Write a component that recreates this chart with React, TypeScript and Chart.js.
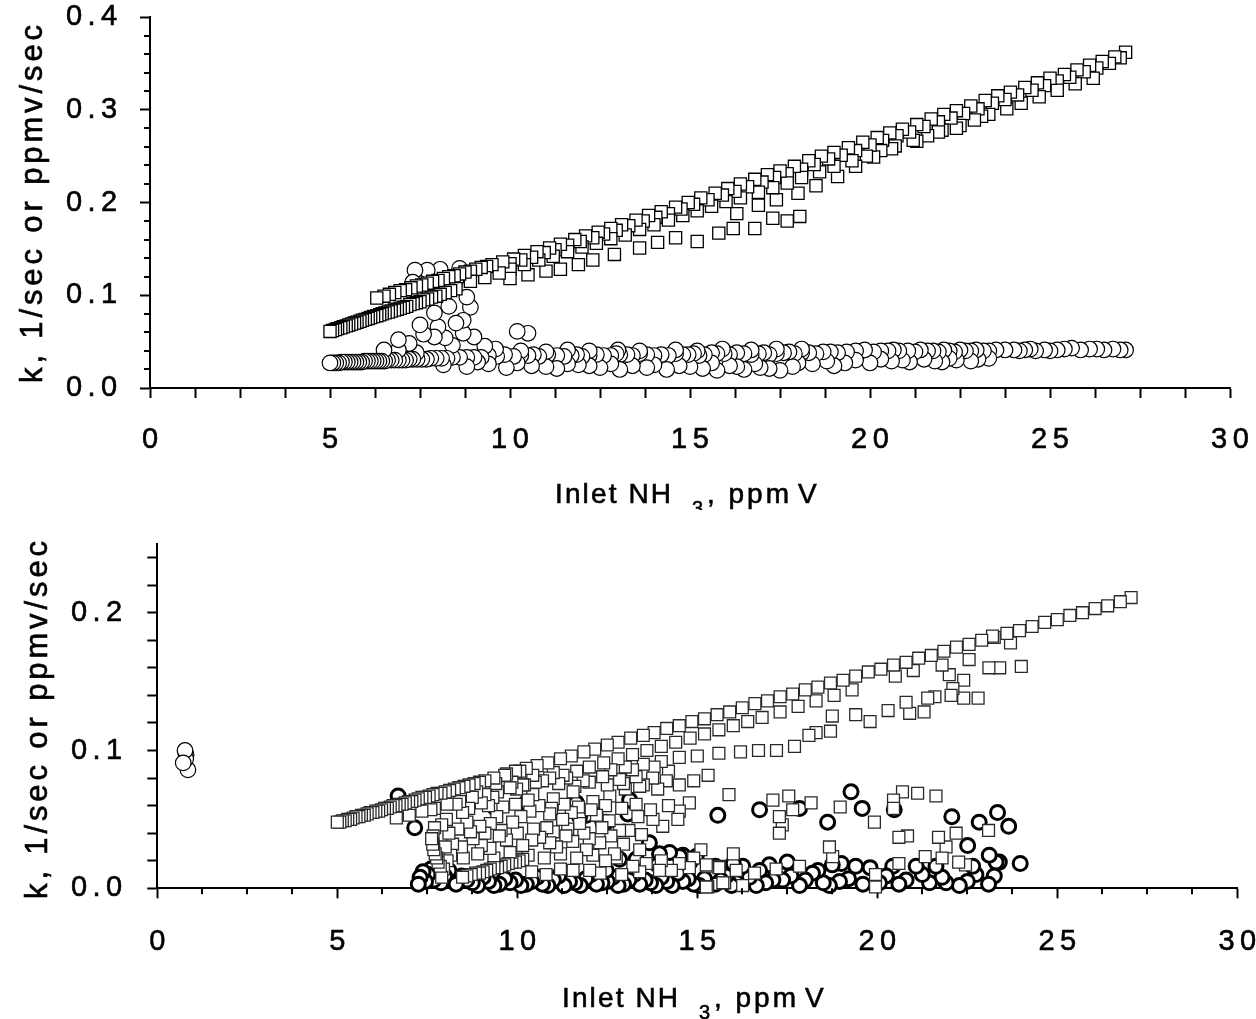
import React, { useEffect, useRef } from "react";
import { Chart, registerables } from "chart.js";

Chart.register(...registerables);

type Pt = [number, number];

const FONT = "'Liberation Sans', Arial, Helvetica, sans-serif";
const TICK_SPACING = "5.5px";
const TICK_SIZE = 29;
const TEXT_STROKE = 0.6;

// ---------------- axis ticks and titles ----------------
const X_TICKS = [0, 1.25, 2.5, 3.75, 5, 6.25, 7.5, 8.75, 10, 11.25, 12.5, 13.75, 15, 16.25, 17.5, 18.75, 20, 21.25, 22.5, 23.75, 25, 26.25, 27.5, 28.75, 30];
const X_LABELS = [0, 5, 10, 15, 20, 25, 30];
const TOP_Y_TICKS = [0, 0.02, 0.04, 0.06, 0.08, 0.1, 0.12, 0.14, 0.16, 0.18, 0.2, 0.22, 0.24, 0.26, 0.28, 0.3, 0.32, 0.34, 0.36, 0.38, 0.4];
const TOP_Y_LABELS = [0, 0.1, 0.2, 0.3, 0.4];
const BOT_Y_TICKS = [0, 0.02, 0.04, 0.06, 0.08, 0.1, 0.12, 0.14, 0.16, 0.18, 0.2, 0.22, 0.24];
const BOT_Y_LABELS = [0, 0.1, 0.2];
const X_TITLE_MAIN = "Inlet NH";
const X_TITLE_SUB = "3";
const X_TITLE_UNIT = ", ppm";
const X_TITLE_LAST = "V";
const Y_TITLE = "k, 1/sec or ppmv/sec";

// ---------------- top panel: squares ----------------
const TOP_SQ_LOWER_COMB: Pt[] = [
  [5.0, 0.061], [5.07, 0.062], [5.15, 0.063], [5.21, 0.064], [5.3, 0.065], [5.37, 0.066], [5.45, 0.067], [5.52, 0.068],
  [5.6, 0.069], [5.68, 0.07], [5.75, 0.071], [5.83, 0.072], [5.9, 0.073], [5.98, 0.074], [6.06, 0.075], [6.13, 0.076],
  [6.21, 0.077], [6.3, 0.078], [6.38, 0.079], [6.45, 0.08], [6.53, 0.081], [6.62, 0.082], [6.7, 0.083], [6.79, 0.084],
  [6.87, 0.085], [6.95, 0.086], [7.04, 0.087], [7.13, 0.088], [7.22, 0.09], [7.31, 0.091], [7.4, 0.092], [7.5, 0.093],
  [7.6, 0.095], [7.71, 0.096], [7.82, 0.098], [7.94, 0.099], [8.06, 0.101], [8.2, 0.103], [8.35, 0.105], [8.5, 0.107],
];
const TOP_SQ_UPPER_COMB: Pt[] = [
  [6.3, 0.097], [6.5, 0.099], [6.65, 0.101], [6.8, 0.103], [6.95, 0.105], [7.1, 0.106], [7.25, 0.108], [7.4, 0.11],
  [7.55, 0.111], [7.7, 0.113], [7.85, 0.115], [8.0, 0.116], [8.15, 0.118], [8.3, 0.12], [8.45, 0.121], [8.6, 0.123],
  [8.75, 0.125], [8.9, 0.126], [9.05, 0.128], [9.2, 0.13], [9.35, 0.131], [9.5, 0.133],
];
const TOP_SQ_UPPER: Pt[] = [
  [9.8, 0.136], [10.1, 0.139], [10.4, 0.143], [10.75, 0.147], [11.1, 0.151], [11.4, 0.155], [11.8, 0.16], [12.1, 0.164],
  [12.45, 0.168], [12.8, 0.172], [13.1, 0.176], [13.5, 0.181], [13.85, 0.186], [14.2, 0.19], [14.6, 0.195], [14.95, 0.2],
  [15.3, 0.205], [15.7, 0.21], [16.05, 0.215], [16.4, 0.22], [16.8, 0.225], [17.15, 0.23], [17.5, 0.234], [17.9, 0.239],
  [18.3, 0.245], [18.65, 0.25], [19.0, 0.254], [19.4, 0.259], [19.8, 0.265], [20.2, 0.27], [20.55, 0.275], [20.9, 0.279],
  [21.3, 0.284], [21.7, 0.29], [22.05, 0.295], [22.4, 0.299], [22.8, 0.304], [23.2, 0.31], [23.55, 0.315], [23.9, 0.319],
  [24.3, 0.324], [24.65, 0.329], [25.0, 0.334], [25.4, 0.338], [25.75, 0.343], [26.1, 0.348], [26.45, 0.352], [26.8, 0.357],
  [27.1, 0.362],
];
const TOP_SQ_UPPER_B: Pt[] = [
  [10.0, 0.134], [10.3, 0.138], [10.6, 0.141], [10.95, 0.146], [11.25, 0.149], [11.6, 0.154], [11.95, 0.158], [12.3, 0.162],
  [12.6, 0.166], [12.95, 0.17], [13.3, 0.175], [13.7, 0.18], [14.05, 0.184], [14.4, 0.188], [14.75, 0.193], [15.1, 0.198],
  [15.5, 0.203], [15.9, 0.208], [16.25, 0.212], [16.6, 0.217], [17.0, 0.222], [17.35, 0.227], [17.7, 0.231], [18.1, 0.236],
  [18.45, 0.241], [18.85, 0.247], [19.2, 0.251], [19.6, 0.256], [20.0, 0.262], [20.35, 0.267], [20.75, 0.272], [21.1, 0.276],
  [21.5, 0.282], [21.9, 0.287], [22.25, 0.291], [22.6, 0.296], [23.0, 0.301], [23.4, 0.307], [23.75, 0.311], [24.1, 0.316],
  [24.5, 0.321], [24.85, 0.326], [25.2, 0.331], [25.55, 0.335], [25.95, 0.341], [26.3, 0.345], [26.65, 0.35], [26.95, 0.356],
];
const TOP_SQ_MID: Pt[] = [
  [8.9, 0.115], [9.3, 0.119], [9.7, 0.124], [10.0, 0.128], [10.4, 0.133], [10.8, 0.138], [11.2, 0.142], [11.6, 0.147],
  [12.0, 0.152], [12.4, 0.156], [12.8, 0.161], [13.2, 0.165], [13.6, 0.171], [14.0, 0.176], [14.4, 0.181], [14.8, 0.186],
  [15.2, 0.191], [15.6, 0.196], [16.0, 0.201], [16.4, 0.205], [16.9, 0.211], [17.3, 0.216], [17.7, 0.221], [18.1, 0.227],
  [18.6, 0.233], [19.0, 0.239], [19.5, 0.245], [19.9, 0.25], [20.3, 0.256], [20.7, 0.261], [21.2, 0.267], [21.6, 0.272],
  [22.0, 0.278], [22.5, 0.283], [22.9, 0.289], [23.3, 0.295], [23.8, 0.301], [24.2, 0.307], [24.7, 0.314], [25.2, 0.321],
  [25.7, 0.328], [26.2, 0.334],
];
const TOP_SQ_LOW: Pt[] = [
  [10.0, 0.118], [10.5, 0.122], [11.0, 0.126], [11.4, 0.128], [11.9, 0.133], [12.3, 0.138], [12.9, 0.144], [13.6, 0.151],
  [14.1, 0.157], [16.3, 0.188], [16.9, 0.197], [17.4, 0.203], [18.0, 0.21], [18.5, 0.218], [19.1, 0.228], [19.6, 0.239],
  [20.1, 0.249], [20.6, 0.258], [21.3, 0.266], [21.9, 0.276], [22.4, 0.28], [23.1, 0.293],
];
const TOP_SQ_BRANCH: Pt[] = [
  [14.6, 0.162], [15.2, 0.158], [15.8, 0.167], [16.2, 0.172], [16.8, 0.172], [17.3, 0.183], [17.7, 0.18], [18.05, 0.185],
];

// ---------------- top panel: circles ----------------
const TOP_CI_COMB: Pt[] = [
  [5.0, 0.027], [5.08, 0.027], [5.16, 0.027], [5.24, 0.027], [5.32, 0.028], [5.4, 0.028], [5.48, 0.028], [5.56, 0.028],
  [5.64, 0.028], [5.72, 0.028], [5.8, 0.028], [5.88, 0.028], [5.96, 0.029], [6.04, 0.029], [6.12, 0.029], [6.2, 0.029],
  [6.28, 0.029], [6.36, 0.029], [6.44, 0.029], [6.52, 0.029], [6.6, 0.03], [6.7, 0.03], [6.8, 0.03], [6.9, 0.03],
  [7.0, 0.03], [7.1, 0.03], [7.2, 0.031], [7.3, 0.031], [7.42, 0.031], [7.55, 0.031], [7.68, 0.031], [7.8, 0.032],
  [7.95, 0.032], [8.1, 0.032], [8.25, 0.032], [8.4, 0.033], [8.6, 0.033], [8.8, 0.033], [9.0, 0.033],
];
const TOP_CI_MAIN: Pt[] = [
  [9.2, 0.033], [9.63, 0.034], [10.1, 0.034], [10.5, 0.035], [10.8, 0.034], [11.3, 0.035], [11.7, 0.035], [12.0, 0.034],
  [12.4, 0.036], [12.8, 0.035], [13.05, 0.036], [13.4, 0.035], [13.8, 0.036], [14.2, 0.036], [14.4, 0.035], [14.8, 0.036],
  [15.1, 0.037], [15.4, 0.036], [15.75, 0.037], [16.1, 0.036], [16.5, 0.037], [16.9, 0.037], [17.2, 0.036], [17.6, 0.038],
  [17.9, 0.037], [18.3, 0.038], [18.7, 0.039], [19.1, 0.038], [19.6, 0.04], [20.1, 0.039], [20.5, 0.04], [20.8, 0.04],
  [21.25, 0.039], [21.6, 0.04], [21.9, 0.039], [22.2, 0.04], [22.5, 0.041], [22.8, 0.04], [23.15, 0.04], [23.5, 0.041],
  [24.0, 0.041], [24.3, 0.041], [24.6, 0.04], [25.2, 0.041], [25.6, 0.043], [26.1, 0.042], [26.5, 0.041], [26.75, 0.042],
  [27.1, 0.041],
];
const TOP_CI_ROW2: Pt[] = [
  [9.4, 0.035], [9.85, 0.036], [10.3, 0.035], [10.65, 0.036], [11.05, 0.036], [11.5, 0.034], [11.85, 0.036], [12.2, 0.035],
  [12.6, 0.035], [12.95, 0.037], [13.25, 0.036], [13.6, 0.037], [14.0, 0.035], [14.6, 0.037], [14.95, 0.036], [15.25, 0.035],
  [15.6, 0.038], [15.95, 0.037], [16.3, 0.038], [16.7, 0.036], [17.05, 0.038], [17.4, 0.037], [17.75, 0.039], [18.1, 0.038],
  [18.5, 0.037], [18.9, 0.039], [19.35, 0.039], [19.85, 0.041], [20.3, 0.04], [20.65, 0.041], [21.05, 0.04], [21.4, 0.041],
  [21.75, 0.04], [22.05, 0.041], [22.35, 0.039], [22.65, 0.04], [22.95, 0.041], [23.3, 0.04], [23.75, 0.041], [24.15, 0.04],
  [24.45, 0.042], [24.85, 0.041], [25.0, 0.04], [25.4, 0.042], [25.85, 0.041], [26.3, 0.042], [26.95, 0.041],
];
const TOP_CI_UPPER: Pt[] = [
  [10.3, 0.04], [11.0, 0.039], [11.6, 0.041], [12.2, 0.04], [13.0, 0.041], [13.6, 0.04], [14.6, 0.041], [15.2, 0.04],
  [15.9, 0.042], [16.7, 0.041], [17.4, 0.042], [18.1, 0.042],
];
const TOP_CI_LOWER: Pt[] = [
  [8.15, 0.025], [8.8, 0.023], [9.4, 0.026], [9.9, 0.022], [10.6, 0.024], [11.3, 0.021], [11.9, 0.025], [12.5, 0.022],
  [13.05, 0.02], [13.4, 0.024], [13.8, 0.022], [14.35, 0.02], [15.0, 0.023], [15.35, 0.021], [15.75, 0.019], [16.1, 0.024],
  [16.5, 0.02], [16.95, 0.022], [17.5, 0.019], [17.85, 0.023], [18.4, 0.026], [19.0, 0.024], [19.6, 0.03], [20.0, 0.027],
  [20.6, 0.029], [21.1, 0.028], [21.5, 0.031], [22.0, 0.028], [22.4, 0.03], [22.8, 0.029], [23.3, 0.032], [9.1, 0.028],
  [10.2, 0.027], [11.0, 0.023], [11.6, 0.026], [12.2, 0.024], [12.8, 0.026], [14.0, 0.025], [14.7, 0.024], [15.6, 0.027],
  [16.3, 0.023], [16.8, 0.026], [17.2, 0.021], [18.0, 0.027], [18.8, 0.029], [19.3, 0.027], [20.3, 0.031], [20.9, 0.03],
  [21.8, 0.029], [22.2, 0.032], [23.0, 0.031],
];
const TOP_CI_SCATTER: Pt[] = [
  [6.5, 0.041], [6.9, 0.041], [7.4, 0.038], [6.9, 0.052], [7.2, 0.048], [7.6, 0.058], [7.9, 0.055], [8.2, 0.054],
  [8.4, 0.046], [8.7, 0.059], [9.0, 0.055], [9.3, 0.045], [9.6, 0.042], [7.5, 0.068], [8.0, 0.066], [8.5, 0.07],
  [8.7, 0.073], [7.9, 0.081], [8.3, 0.088], [8.9, 0.087], [8.8, 0.098], [7.3, 0.114], [8.5, 0.117], [7.36, 0.127],
  [7.7, 0.127], [8.06, 0.128], [8.6, 0.129], [10.2, 0.061], [10.5, 0.059],
];

// ---------------- bottom panel: squares ----------------
const BOT_SQ_COMB: Pt[] = [
  [5.0, 0.048], [5.07, 0.048], [5.14, 0.049], [5.22, 0.049], [5.29, 0.05], [5.37, 0.05], [5.44, 0.051], [5.52, 0.052],
  [5.6, 0.052], [5.67, 0.053], [5.75, 0.053], [5.83, 0.054], [5.91, 0.055], [5.99, 0.055], [6.07, 0.056], [6.15, 0.056],
  [6.23, 0.057], [6.31, 0.058], [6.39, 0.058], [6.47, 0.059], [6.55, 0.06], [6.63, 0.06], [6.72, 0.061], [6.8, 0.061],
  [6.89, 0.062], [6.98, 0.063], [7.07, 0.063], [7.16, 0.064], [7.25, 0.065], [7.35, 0.066], [7.45, 0.066], [7.55, 0.067],
  [7.66, 0.068], [7.77, 0.069], [7.88, 0.069], [8.0, 0.07], [8.12, 0.071], [8.25, 0.072], [8.38, 0.073], [8.52, 0.074],
  [8.66, 0.075], [8.8, 0.076], [8.95, 0.077], [9.1, 0.078],
];
const BOT_SQ_UPPER: Pt[] = [
  [9.35, 0.08], [9.65, 0.082], [9.95, 0.085], [10.25, 0.087], [10.55, 0.089], [10.85, 0.091], [11.2, 0.094], [11.5, 0.096],
  [11.85, 0.099], [12.15, 0.101], [12.5, 0.104], [12.8, 0.106], [13.15, 0.109], [13.5, 0.111], [13.8, 0.113], [14.15, 0.116],
  [14.5, 0.118], [14.85, 0.121], [15.2, 0.123], [15.55, 0.126], [15.9, 0.128], [16.25, 0.131], [16.6, 0.134], [16.95, 0.136],
  [17.3, 0.139], [17.65, 0.141], [18.0, 0.144], [18.35, 0.146], [18.7, 0.149], [19.05, 0.151], [19.4, 0.154], [19.75, 0.157],
  [20.1, 0.159], [20.45, 0.162], [20.8, 0.164], [21.15, 0.167], [21.5, 0.169], [21.85, 0.172], [22.2, 0.175], [22.55, 0.177],
  [22.9, 0.18], [23.25, 0.182], [23.6, 0.185], [23.95, 0.187], [24.3, 0.19], [24.65, 0.193], [25.0, 0.195], [25.35, 0.198],
  [25.7, 0.2], [26.05, 0.203], [26.4, 0.205], [26.75, 0.208], [27.05, 0.211],
];
const BOT_SQ_SECOND: Pt[] = [
  [6.64, 0.051], [7.0, 0.053], [7.35, 0.056], [7.7, 0.058], [8.05, 0.061], [8.4, 0.063], [8.75, 0.066], [9.1, 0.068],
  [9.45, 0.07], [9.8, 0.073], [10.15, 0.075], [10.5, 0.077], [10.9, 0.08], [11.27, 0.082], [11.65, 0.085], [12.0, 0.088],
  [12.4, 0.091], [12.8, 0.094], [13.2, 0.097], [13.6, 0.1], [14.0, 0.103], [14.4, 0.106], [14.8, 0.109], [15.2, 0.112],
  [15.6, 0.115], [16.0, 0.118], [16.4, 0.121], [16.8, 0.124], [17.3, 0.128], [17.8, 0.132], [18.3, 0.136], [18.8, 0.14],
  [19.3, 0.144], [20.5, 0.154], [21.0, 0.158], [21.8, 0.162], [22.0, 0.155], [22.55, 0.166], [23.1, 0.16], [23.4, 0.16],
  [24.0, 0.161], [23.7, 0.178], [23.2, 0.183],
];
const BOT_SQ_BRANCH: Pt[] = [
  [12.6, 0.086], [13.0, 0.088], [13.5, 0.09], [14.0, 0.092], [14.5, 0.095], [15.0, 0.096], [15.6, 0.098], [16.2, 0.099],
  [16.7, 0.1], [17.2, 0.1], [17.7, 0.103], [18.1, 0.111], [18.3, 0.113], [18.7, 0.114], [18.75, 0.125], [19.4, 0.126],
  [19.8, 0.121], [20.3, 0.129], [20.8, 0.135], [20.9, 0.127], [21.3, 0.128], [21.4, 0.138], [21.6, 0.139], [22.05, 0.14],
  [22.1, 0.145], [22.4, 0.151], [22.4, 0.138], [22.8, 0.138],
];
const BOT_SQ_CLUSTER: Pt[] = [
  [9.7, 0.083], [10.07, 0.085], [10.43, 0.082], [11.0, 0.084], [11.37, 0.08], [11.83, 0.078], [12.37, 0.081], [12.84, 0.079],
  [13.3, 0.081], [13.76, 0.08], [14.14, 0.078], [8.87, 0.07], [9.32, 0.066], [9.98, 0.072], [10.43, 0.068], [11.0, 0.065],
  [11.55, 0.07], [12.1, 0.063], [12.57, 0.067], [13.0, 0.072], [13.5, 0.075], [8.03, 0.05], [8.48, 0.055], [8.96, 0.045],
  [9.43, 0.052], [9.87, 0.048], [10.35, 0.056], [10.82, 0.044], [11.26, 0.05], [11.73, 0.047], [12.2, 0.053], [12.84, 0.042],
  [13.77, 0.05], [14.04, 0.045], [14.46, 0.05], [14.78, 0.062], [7.6, 0.057], [7.9, 0.046], [10.6, 0.06], [9.2, 0.06],
  [7.66, 0.038], [8.2, 0.032], [8.77, 0.036], [9.24, 0.029], [9.7, 0.035], [10.15, 0.031], [10.62, 0.037], [11.09, 0.03],
  [11.54, 0.034], [11.92, 0.028], [12.29, 0.033], [12.7, 0.025], [7.62, 0.036], [7.65, 0.032], [7.68, 0.028], [7.72, 0.025],
  [7.76, 0.022], [7.8, 0.019], [7.86, 0.016], [7.95, 0.014], [8.05, 0.02], [8.0, 0.03], [8.1, 0.04], [7.7, 0.044],
  [11.55, 0.013], [12.01, 0.013], [12.75, 0.022], [13.21, 0.016], [13.58, 0.018], [13.95, 0.013], [14.28, 0.013],
  [14.78, 0.015], [15.25, 0.017], [15.62, 0.016], [15.25, 0.001], [15.71, 0.004], [15.1, 0.028], [16.0, 0.025],
];
const BOT_SQ_FILL: Pt[] = [
  [9.4, 0.076], [9.85, 0.077], [10.2, 0.075], [10.7, 0.078], [11.15, 0.076], [11.6, 0.074], [12.0, 0.077], [12.5, 0.075],
  [12.95, 0.076], [13.4, 0.074], [13.9, 0.072], [8.3, 0.061], [8.65, 0.058], [9.0, 0.062], [9.6, 0.059], [9.95, 0.061],
  [10.3, 0.064], [10.95, 0.058], [11.3, 0.061], [11.7, 0.059], [12.05, 0.057], [12.45, 0.06], [12.9, 0.058], [13.3, 0.061],
  [13.7, 0.057], [14.2, 0.06], [14.5, 0.056], [8.35, 0.043], [8.7, 0.041], [9.1, 0.04], [9.55, 0.042], [10.0, 0.04],
  [10.45, 0.043], [11.0, 0.041], [11.4, 0.043], [11.85, 0.04], [12.35, 0.044], [12.6, 0.038], [13.1, 0.042], [13.45, 0.039],
  [8.15, 0.024], [8.5, 0.022], [8.9, 0.025], [9.35, 0.022], [9.8, 0.026], [10.3, 0.024], [10.75, 0.022], [11.2, 0.025],
  [11.65, 0.022], [12.1, 0.024], [12.45, 0.02], [7.9, 0.008], [10.4, 0.012], [10.8, 0.01], [11.2, 0.014], [12.3, 0.011],
  [12.9, 0.01], [13.4, 0.012], [14.0, 0.02], [14.5, 0.018], [14.9, 0.022], [14.5, 0.075], [14.9, 0.078], [15.3, 0.082],
  [14.2, 0.085], [13.8, 0.088], [13.2, 0.086], [8.6, 0.048], [9.25, 0.047], [10.1, 0.052], [10.9, 0.054], [11.5, 0.055],
  [12.55, 0.049], [13.35, 0.052], [8.45, 0.03], [9.0, 0.031], [9.5, 0.038], [10.4, 0.035], [10.9, 0.033], [11.35, 0.038],
  [12.0, 0.036], [12.95, 0.032], [13.4, 0.028],
];
const BOT_SQ_LOW_COMB: Pt[] = [
  [8.48, 0.008], [8.6, 0.009], [8.72, 0.01], [8.84, 0.011], [8.95, 0.011], [9.05, 0.012], [9.15, 0.013], [9.25, 0.014],
  [9.35, 0.015], [9.45, 0.015], [9.55, 0.016], [9.65, 0.017], [9.75, 0.018], [9.85, 0.019], [9.95, 0.019], [10.05, 0.02],
  [10.15, 0.021],
];
const BOT_SQ_RIGHT: Pt[] = [
  [15.88, 0.068], [17.1, 0.064], [17.54, 0.067], [18.16, 0.062], [17.65, 0.057], [17.28, 0.052], [17.36, 0.046], [17.28, 0.04],
  [18.97, 0.059], [19.92, 0.048], [20.7, 0.07], [21.12, 0.069], [21.63, 0.067], [20.45, 0.064], [20.45, 0.058], [20.6, 0.037],
  [20.84, 0.038], [21.7, 0.037], [22.19, 0.04], [21.91, 0.03], [23.09, 0.042], [18.67, 0.03], [18.76, 0.023], [21.33, 0.023],
  [21.8, 0.022], [22.26, 0.019], [22.45, 0.017], [20.6, 0.018], [19.95, 0.01], [19.95, 0.001], [17.84, 0.016], [17.19, 0.014],
  [16.59, 0.011], [16.08, 0.013], [15.6, 0.015], [15.29, 0.016], [15.76, 0.004], [16.26, 0.002], [15.29, 0.001],
];

// ---------------- bottom panel: circles ----------------
const BOT_CI_SCATTER: Pt[] = [
  [6.69, 0.067], [7.15, 0.044], [9.4, 0.058], [10.25, 0.062], [11.64, 0.062], [11.73, 0.052], [11.92, 0.053], [12.16, 0.054],
  [12.38, 0.048], [12.47, 0.048], [13.07, 0.054], [13.12, 0.064], [13.17, 0.056], [13.67, 0.033], [15.57, 0.053], [16.73, 0.057],
  [17.84, 0.058], [18.62, 0.048], [19.27, 0.07], [19.58, 0.058], [20.47, 0.057], [22.07, 0.052], [22.83, 0.048], [23.34, 0.055],
  [23.65, 0.045], [22.51, 0.031], [23.11, 0.024], [23.3, 0.019], [23.97, 0.018], [23.09, 0.003],
];
const BOT_CI_LOW: Pt[] = [
  [7.3, 0.008], [7.38, 0.012], [7.45, 0.005], [7.52, 0.01], [7.6, 0.014], [7.68, 0.006], [7.78, 0.011], [7.88, 0.004],
  [7.98, 0.009], [8.1, 0.013], [13.95, 0.025], [14.23, 0.026], [14.51, 0.023], [14.6, 0.024], [14.97, 0.023], [13.3, 0.021],
  [12.84, 0.021], [12.47, 0.013], [16.26, 0.016], [16.73, 0.013], [17.1, 0.006], [17.37, 0.006], [16.64, 0.002], [17.84, 0.002],
  [18.35, 0.013], [18.75, 0.017], [18.67, 0.002], [18.95, 0.005], [19.4, 0.016], [20.06, 0.004], [20.43, 0.016], [20.8, 0.006],
  [21.08, 0.016], [21.45, 0.004], [21.63, 0.016], [21.91, 0.004], [22.28, 0.002], [22.65, 0.016], [22.74, 0.01], [23.39, 0.019],
  [18.2, 0.011], [13.9, 0.017], [14.8, 0.019], [15.5, 0.016], [16.0, 0.018], [17.0, 0.017], [17.5, 0.019], [19.0, 0.018],
  [19.8, 0.015],
];
const BOT_CI_BOTTOM: Pt[] = [
  [8.3, 0.003], [8.6, 0.006], [8.9, 0.002], [9.2, 0.005], [9.5, 0.003], [9.8, 0.004], [10.1, 0.002], [10.4, 0.005],
  [10.7, 0.003], [11.0, 0.006], [11.3, 0.002], [11.6, 0.004], [11.9, 0.007], [12.2, 0.003], [12.5, 0.005], [12.8, 0.002],
  [13.1, 0.006], [13.4, 0.003], [13.7, 0.004], [14.0, 0.008], [14.3, 0.002], [14.6, 0.005], [14.9, 0.003], [15.2, 0.007],
  [15.5, 0.003], [15.8, 0.009], [16.1, 0.004], [7.25, 0.003], [8.45, 0.009], [8.75, 0.004], [9.05, 0.008], [9.35, 0.002],
  [9.65, 0.007], [9.95, 0.006], [10.25, 0.003], [10.55, 0.008], [10.85, 0.002], [11.15, 0.009], [11.45, 0.005], [11.75, 0.002],
  [12.05, 0.01], [12.35, 0.004], [12.65, 0.008], [12.95, 0.003], [13.25, 0.01], [13.55, 0.006], [13.85, 0.002], [14.15, 0.005],
  [14.45, 0.011], [14.75, 0.007], [15.05, 0.002], [15.35, 0.012], [15.65, 0.006], [15.95, 0.002], [16.45, 0.008], [16.9, 0.004],
  [17.6, 0.009], [18.0, 0.006], [18.5, 0.004], [19.2, 0.007], [19.6, 0.003], [20.25, 0.009], [20.6, 0.003], [21.25, 0.01],
  [21.8, 0.008], [22.5, 0.005], [23.25, 0.009],
];
const BOT_CI_EDGE: Pt[] = [[0.77, 0.1], [0.8, 0.097], [0.79, 0.094], [0.72, 0.091], [0.85, 0.086]];

// ---------------- helpers ----------------
const isIn = (list: number[], v: number) => list.some((l) => Math.abs(l - v) < 1e-9);
const toPoints = (...groups: Pt[][]) =>
  groups
    .flat()
    .slice()
    .sort((a, b) => b[0] - a[0])
    .map(([x, y]) => ({ x, y }));

const squares = (data: any[], color: string, r: number, w: number) => ({
  data,
  pointStyle: "rect",
  pointRadius: r,
  pointBorderWidth: w,
  pointBorderColor: color,
  pointBackgroundColor: "#ffffff",
  showLine: false,
  clip: false,
});
const circles = (data: any[], width: number, r: number) => ({
  data,
  pointStyle: "circle",
  pointRadius: r,
  pointBorderWidth: width,
  pointBorderColor: "#000000",
  pointBackgroundColor: "#ffffff",
  showLine: false,
  clip: false,
});

interface PanelSpec {
  height: number;
  yMax: number;
  yTicks: number[];
  yLabels: number[];
  yMinorShort: boolean;
  xMinorShort: boolean;
  yAxisWidth: number;
  xAxisHeight: number;
  padTop: number;
  padRight: number;
  xTickPad: number;
  yTickPad: number;
  yTitleBaseline: number;
  yTitleCenter: number;
  xTitleBaseline: number;
  xTitleCenter: number;
  datasets: any[];
}

// draw a piece of text so that it spans a given width (Excel-like spread lettering)
function fitText(ctx: any, text: string, left: number, baseline: number, width: number, size: number) {
  ctx.font = `${size}px ${FONT}`;
  ctx.letterSpacing = "0px";
  const natural = ctx.measureText(text).width;
  const gaps = Math.max(text.length - 1, 1);
  const s = text.length > 1 ? (width - natural) / gaps : 0;
  ctx.letterSpacing = `${s}px`;
  ctx.textAlign = "left";
  ctx.fillText(text, left, baseline);
  ctx.lineWidth = TEXT_STROKE;
  ctx.strokeStyle = "#000";
  ctx.strokeText(text, left, baseline);
  ctx.letterSpacing = "0px";
}

function excelPlugin(spec: PanelSpec) {
  return {
    id: "excelAxes",
    beforeLayout(chart: any) {
      chart.ctx.letterSpacing = TICK_SPACING;
    },
    beforeDraw(chart: any) {
      chart.ctx.letterSpacing = TICK_SPACING;
    },
    afterDraw(chart: any) {
      const ctx = chart.ctx;
      const xs = chart.scales.x;
      const ys = chart.scales.y;
      ctx.save();
      ctx.strokeStyle = "#000";
      ctx.lineWidth = 2;
      if (spec.xMinorShort) {
        X_TICKS.forEach((v) => {
          if (isIn(X_LABELS, v)) return;
          const px = Math.round(xs.getPixelForValue(v));
          ctx.beginPath();
          ctx.moveTo(px, xs.top);
          ctx.lineTo(px, xs.top + 6);
          ctx.stroke();
        });
      }
      if (spec.yMinorShort) {
        spec.yTicks.forEach((v) => {
          if (isIn(spec.yLabels, v)) return;
          const py = Math.round(ys.getPixelForValue(v));
          ctx.beginPath();
          ctx.moveTo(ys.right, py);
          ctx.lineTo(ys.right - 6, py);
          ctx.stroke();
        });
      }
      // x title with subscript
      const cx = spec.xTitleCenter;
      const by = spec.xTitleBaseline;
      ctx.fillStyle = "#000";
      ctx.textBaseline = "alphabetic";
      fitText(ctx, X_TITLE_MAIN, cx - 133, by, 116, 28);
      fitText(ctx, X_TITLE_SUB, cx + 4, by + 12, 0, 20);
      fitText(ctx, X_TITLE_UNIT, cx + 19, by, 82, 28);
      fitText(ctx, X_TITLE_LAST, cx + 110, by, 0, 28);
      // y title
      ctx.save();
      ctx.translate(spec.yTitleBaseline, spec.yTitleCenter);
      ctx.rotate(-Math.PI / 2);
      fitText(ctx, Y_TITLE, -179, 0, 358, 31);
      ctx.restore();
      ctx.restore();
    },
  };
}

function buildConfig(spec: PanelSpec): any {
  const tickFont = { family: FONT, size: TICK_SIZE };
  return {
    type: "scatter",
    data: { datasets: spec.datasets },
    options: {
      animation: false,
      responsive: false,
      events: [],
      layout: { padding: { top: spec.padTop, right: spec.padRight, bottom: 0, left: 0 } },
      plugins: { legend: { display: false }, tooltip: { enabled: false } },
      scales: {
        x: {
          type: "linear",
          min: 0,
          max: 30,
          afterBuildTicks: (s: any) => {
            s.ticks = X_TICKS.map((v) => ({ value: v }));
          },
          afterFit: (s: any) => {
            s.height = spec.xAxisHeight;
            s.paddingLeft = 0;
            s.paddingRight = 0;
          },
          ticks: {
            autoSkip: false,
            maxRotation: 0,
            minRotation: 0,
            padding: spec.xTickPad,
            labelOffset: 2.75,
            color: "#000",
            textStrokeColor: "#000",
            textStrokeWidth: TEXT_STROKE,
            font: tickFont,
            callback: (v: number) => (isIn(X_LABELS, v) ? String(v) : ""),
          },
          grid: {
            display: true,
            drawOnChartArea: false,
            drawTicks: true,
            tickLength: 10,
            tickWidth: 2,
            tickColor: (c: any) =>
              spec.xMinorShort && c.tick && !isIn(X_LABELS, c.tick.value) ? "rgba(0,0,0,0)" : "#000",
          },
          border: { display: true, color: "#000", width: 2 },
        },
        y: {
          type: "linear",
          min: 0,
          max: spec.yMax,
          afterBuildTicks: (s: any) => {
            s.ticks = spec.yTicks.map((v) => ({ value: v }));
          },
          afterFit: (s: any) => {
            s.width = spec.yAxisWidth;
            s.paddingTop = 0;
            s.paddingBottom = 0;
          },
          ticks: {
            autoSkip: false,
            padding: spec.yTickPad,
            color: "#000",
            textStrokeColor: "#000",
            textStrokeWidth: TEXT_STROKE,
            font: tickFont,
            callback: (v: number) => (isIn(spec.yLabels, v) ? v.toFixed(1) : ""),
          },
          grid: {
            display: true,
            drawOnChartArea: false,
            drawTicks: true,
            tickLength: 10,
            tickWidth: 2,
            tickColor: (c: any) =>
              spec.yMinorShort && c.tick && !isIn(spec.yLabels, c.tick.value) ? "rgba(0,0,0,0)" : "#000",
          },
          border: { display: true, color: "#000", width: 2 },
        },
      },
    },
    plugins: [excelPlugin(spec)],
  };
}

const TOP_SPEC: PanelSpec = {
  height: 510,
  yMax: 0.4,
  yTicks: TOP_Y_TICKS,
  yLabels: TOP_Y_LABELS,
  yMinorShort: true,
  xMinorShort: false,
  yAxisWidth: 150,
  xAxisHeight: 122,
  padTop: 17,
  padRight: 26,
  xTickPad: 24.6,
  yTickPad: 17.3,
  yTitleBaseline: 42,
  yTitleCenter: 204,
  xTitleBaseline: 503,
  xTitleCenter: 688,
  datasets: [
    squares(
      toPoints(TOP_SQ_LOWER_COMB, TOP_SQ_UPPER_COMB, TOP_SQ_UPPER, TOP_SQ_UPPER_B, TOP_SQ_MID, TOP_SQ_LOW, TOP_SQ_BRANCH),
      "#000000",
      8.6,
      1.3
    ),
    circles(toPoints(TOP_CI_COMB, TOP_CI_MAIN, TOP_CI_ROW2, TOP_CI_UPPER, TOP_CI_LOWER, TOP_CI_SCATTER), 1.2, 7.8),
  ],
};

const BOTTOM_SPEC: PanelSpec = {
  height: 509,
  yMax: 0.25,
  yTicks: BOT_Y_TICKS,
  yLabels: BOT_Y_LABELS,
  yMinorShort: false,
  xMinorShort: true,
  yAxisWidth: 157.3,
  xAxisHeight: 130.7,
  padTop: 33.8,
  padRight: 18.7,
  xTickPad: 26,
  yTickPad: 19.6,
  yTitleBaseline: 47,
  yTitleCenter: 210,
  xTitleBaseline: 497,
  xTitleCenter: 695,
  datasets: [
    squares(
      toPoints(BOT_SQ_COMB, BOT_SQ_UPPER, BOT_SQ_SECOND, BOT_SQ_BRANCH, BOT_SQ_CLUSTER, BOT_SQ_FILL, BOT_SQ_LOW_COMB, BOT_SQ_RIGHT),
      "#2a2a2a",
      8.4,
      1.3
    ),
    circles(toPoints(BOT_CI_SCATTER, BOT_CI_LOW, BOT_CI_BOTTOM), 3, 7),
    circles(toPoints(BOT_CI_EDGE), 1.2, 7.8),
  ],
};

function Panel({ spec }: { spec: PanelSpec }) {
  const ref = useRef<HTMLCanvasElement>(null);
  useEffect(() => {
    if (!ref.current) return;
    const chart = new Chart(ref.current, buildConfig(spec));
    return () => chart.destroy();
  }, [spec]);
  return (
    <canvas
      ref={ref}
      width={1256}
      height={spec.height}
      style={{ display: "block", width: 1256, height: spec.height }}
    />
  );
}

export default function App() {
  return (
    <div style={{ position: "absolute", left: 0, top: 0, width: 1256, height: 1019, background: "#ffffff" }}>
      <Panel spec={TOP_SPEC} />
      <Panel spec={BOTTOM_SPEC} />
    </div>
  );
}
